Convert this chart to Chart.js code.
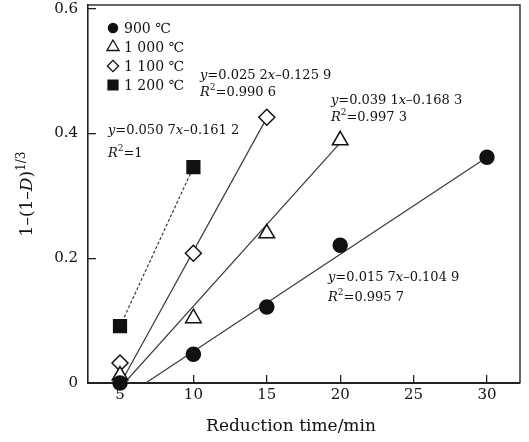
<!DOCTYPE html>
<html>
<head>
<meta charset="utf-8">
<script src="https://cdn.jsdelivr.net/npm/chart.js@4.4.1/dist/chart.umd.min.js"></script>
<style>
  body { margin: 0; background: #fff; }
  #divChartReduction { width: 529px; height: 442px; }
</style>
</head>
<body>
<div id="divChartReduction"><canvas id="chartReduction"></canvas></div>
<script>
// reduction time (min) and 1-(1-D)^(1/3)
var times900 = [5, 10, 15, 20, 30];
var vals900 = [0.000, 0.046, 0.122, 0.221, 0.362];
var times1000 = [5, 10, 15, 20];
var vals1000 = [0.012, 0.104, 0.240, 0.389];
var times1100 = [5, 10, 15];
var vals1100 = [0.032, 0.208, 0.426];
var times1200 = [5, 10];
var vals1200 = [0.091, 0.346];

// end points of the drawn fit lines
var fitX900 = [6.75, 30], fitY900 = [0, 0.362];
var fitX1000 = [5.3, 20], fitY1000 = [0, 0.385];
var fitX1100 = [5.05, 15], fitY1100 = [0, 0.425];
var fitX1200 = [5, 10], fitY1200 = [0.091, 0.346];

var seriesNames = ['900 ℃', '1 000 ℃', '1 100 ℃', '1 200 ℃'];
var xTicks = [5, 10, 15, 20, 25, 30];
var yTicks = [0, 0.2, 0.4, 0.6];

// fit equations: *..* = italic, ^.. = superscript
var fitEquations = [
    {x: 4.18, y: 0.405, text: '*y*=0.050 7*x*–0.161 2'},
    {x: 4.18, y: 0.368, text: '*R*^2=1'},
    {x: 10.45, y: 0.493, text: '*y*=0.025 2*x*–0.125 9'},
    {x: 10.45, y: 0.466, text: '*R*^2=0.990 6'},
    {x: 19.37, y: 0.453, text: '*y*=0.039 1*x*–0.168 3'},
    {x: 19.37, y: 0.426, text: '*R*^2=0.997 3'},
    {x: 19.17, y: 0.169, text: '*y*=0.015 7*x*–0.104 9'},
    {x: 19.17, y: 0.137, text: '*R*^2=0.995 7'}
];

var FONT = '"DejaVu Serif", serif';
var INK = '#111';

function toPoints(xs, ys) {
    return xs.map(function(x, i) { return {x: x, y: ys[i]}; });
}

// draw a string with italic / superscript pieces, returns its width
function drawRich(ctx, str, x, y, size, measureOnly) {
    var parts = str.split(/(\*[^*]+\*|\^[^ =]+)/).filter(Boolean);
    var w = 0;
    parts.forEach(function(p) {
        var t = p, font = size + 'px ' + FONT, dy = 0;
        if (p[0] === '*') { t = p.slice(1, -1); font = 'italic ' + font; }
        else if (p[0] === '^') { t = p.slice(1); font = Math.round(size * 0.72) + 'px ' + FONT; dy = -size * 0.38; }
        ctx.font = font;
        if (!measureOnly) ctx.fillText(t, x + w, y + dy);
        w += ctx.measureText(t).width;
    });
    return w;
}

var framePlugin = {
    id: 'frame',
    afterDraw: function(chart) {
        var ctx = chart.ctx, a = chart.chartArea;
        ctx.save();
        ctx.strokeStyle = '#333';
        ctx.lineWidth = 1.5;
        ctx.beginPath();
        ctx.moveTo(a.left, a.top);
        ctx.lineTo(a.right, a.top);
        ctx.lineTo(a.right, a.bottom);
        ctx.stroke();
        ctx.restore();
    }
};

var legendRadius = [4.6, 7, 5.6, 7];

var textPlugin = {
    id: 'texts',
    afterDraw: function(chart) {
        var ctx = chart.ctx, a = chart.chartArea;
        var xs = chart.scales.x, ys = chart.scales.y;
        ctx.save();
        ctx.fillStyle = INK;
        ctx.textBaseline = 'middle';
        ctx.textAlign = 'left';

        // equations
        fitEquations.forEach(function(e) {
            drawRich(ctx, e.text, xs.getPixelForValue(e.x), ys.getPixelForValue(e.y), 13);
        });

        // legend
        for (var i = 0; i < seriesNames.length; i++) {
            var ds = chart.data.datasets[i];
            var cy = a.top + 23 + i * 19, cx = a.left + 25;
            ctx.fillStyle = ds.backgroundColor;
            ctx.strokeStyle = ds.borderColor;
            ctx.lineWidth = 1.3;
            Chart.helpers.drawPoint(ctx, {pointStyle: ds.pointStyle, radius: legendRadius[i], borderWidth: 1.3, rotation: 0}, cx, cy);
            ctx.fillStyle = INK;
            ctx.font = '14px ' + FONT;
            ctx.fillText(seriesNames[i], a.left + 36, cy + 1);
        }

        // axis titles
        ctx.font = '17px ' + FONT;
        ctx.textAlign = 'center';
        ctx.fillText('Reduction time/min', 291, 427);

        ctx.textAlign = 'left';
        ctx.translate(28, (a.top + a.bottom) / 2);
        ctx.rotate(-Math.PI / 2);
        var yTitle = '1–(1–*D*)^1/3';
        var w = drawRich(ctx, yTitle, 0, 0, 17, true);
        drawRich(ctx, yTitle, -w / 2, 0, 17);
        ctx.restore();
    }
};

function markerSet(label, xs, ys, style, radius, fill) {
    return {
        label: label,
        data: toPoints(xs, ys),
        showLine: false,
        pointStyle: style,
        pointRadius: radius,
        pointBorderWidth: 1.5,
        backgroundColor: fill,
        borderColor: INK,
        clip: false,
        order: 0
    };
}

function fitSet(xs, ys, dash) {
    return {
        data: toPoints(xs, ys),
        showLine: true,
        pointRadius: 0,
        borderColor: '#3a3a3a',
        borderWidth: 1.2,
        borderDash: dash,
        order: 5
    };
}

var chartData = {
    datasets: [
        markerSet(seriesNames[0], times900, vals900, 'circle', 7, INK),
        markerSet(seriesNames[1], times1000, vals1000, 'triangle', 9, '#fff'),
        markerSet(seriesNames[2], times1100, vals1100, 'rectRot', 8, '#fff'),
        markerSet(seriesNames[3], times1200, vals1200, 'rect', 9, INK),
        fitSet(fitX900, fitY900, []),
        fitSet(fitX1000, fitY1000, []),
        fitSet(fitX1100, fitY1100, []),
        fitSet(fitX1200, fitY1200, [3, 2])
    ]
};

var ctx = document.getElementById('chartReduction');
new Chart(ctx, {
    type: 'scatter',
    data: chartData,
    options: {
        responsive: true,
        maintainAspectRatio: false,
        animation: false,
        layout: { autoPadding: false, padding: {top: 5, right: 9, left: 0, bottom: 0} },
        plugins: {
            legend: { display: false },
            tooltip: { enabled: false }
        },
        scales: {
            x: {
                type: 'linear',
                min: 2.82,
                max: 32.25,
                afterBuildTicks: function(s) { s.ticks = xTicks.map(function(v) { return {value: v}; }); },
                afterFit: function(s) { s.height = 59; s.paddingLeft = 0; s.paddingRight = 0; },
                grid: { drawOnChartArea: false, tickLength: -8, color: '#222', lineWidth: 1.3 },
                border: { color: '#222', width: 2 },
                ticks: { padding: 11, color: INK, maxRotation: 0, font: {family: FONT, size: 15} }
            },
            y: {
                type: 'linear',
                min: 0,
                max: 0.606,
                afterBuildTicks: function(s) { s.ticks = yTicks.map(function(v) { return {value: v}; }); },
                afterFit: function(s) { s.width = 88; s.paddingTop = 0; s.paddingBottom = 0; },
                grid: { drawOnChartArea: false, tickLength: -8, color: '#222', lineWidth: 1.3 },
                border: { color: '#222', width: 1.6 },
                ticks: {
                    padding: 18,
                    color: INK,
                    font: {family: FONT, size: 15},
                    callback: function(v) { return v === 0 ? '0' : v.toFixed(1); }
                }
            }
        }
    },
    plugins: [framePlugin, textPlugin]
});
</script>
</body>
</html>
